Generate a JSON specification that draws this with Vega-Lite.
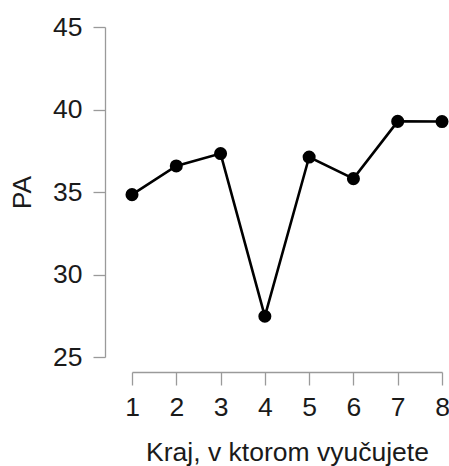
{
  "$schema": "https://vega.github.io/schema/vega-lite/v6.json",
  "autosize": "none",
  "width": 310,
  "height": 330,
  "padding": {"left": 132, "top": 27, "right": 7, "bottom": 109},
  "background": "white",
  "config": {
    "view": {"stroke": null},
    "font": "Liberation Sans",
    "axis": {
      "grid": false,
      "domainColor": "#9a9a9a",
      "tickColor": "#9a9a9a",
      "domainWidth": 1.3,
      "tickWidth": 1.3,
      "labelColor": "#1a1a1a",
      "titleColor": "#1a1a1a",
      "labelFont": "Liberation Sans",
      "titleFont": "Liberation Sans",
      "labelFontSize": 26.5,
      "titleFontSize": 26.5,
      "titleFontWeight": "normal"
    }
  },
  "data": {
    "values": [
      {"kraj": 1, "PA": 34.84},
      {"kraj": 2, "PA": 36.58},
      {"kraj": 3, "PA": 37.33},
      {"kraj": 4, "PA": 27.47},
      {"kraj": 5, "PA": 37.12},
      {"kraj": 6, "PA": 35.81},
      {"kraj": 7, "PA": 39.28},
      {"kraj": 8, "PA": 39.27}
    ]
  },
  "encoding": {
    "x": {
      "field": "kraj",
      "type": "quantitative",
      "scale": {"domain": [1, 8], "nice": false, "zero": false},
      "axis": {
        "title": "Kraj, v ktorom vyučujete",
        "values": [1, 2, 3, 4, 5, 6, 7, 8],
        "format": "d",
        "offset": 15,
        "tickSize": 13,
        "labelPadding": 9,
        "titlePadding": 19,
        "labelFlush": false,
        "labelOverlap": false
      }
    },
    "y": {
      "field": "PA",
      "type": "quantitative",
      "scale": {"domain": [25, 45], "nice": false, "zero": false},
      "axis": {
        "title": "PA",
        "values": [25, 30, 35, 40, 45],
        "offset": 27,
        "tickSize": 12,
        "labelPadding": 11,
        "titlePadding": 16,
        "labelFlush": false,
        "labelOverlap": false
      }
    }
  },
  "layer": [
    {"mark": {"type": "line", "color": "black", "strokeWidth": 2.6}},
    {"mark": {"type": "point", "filled": true, "color": "black", "opacity": 1, "size": 170}}
  ]
}
